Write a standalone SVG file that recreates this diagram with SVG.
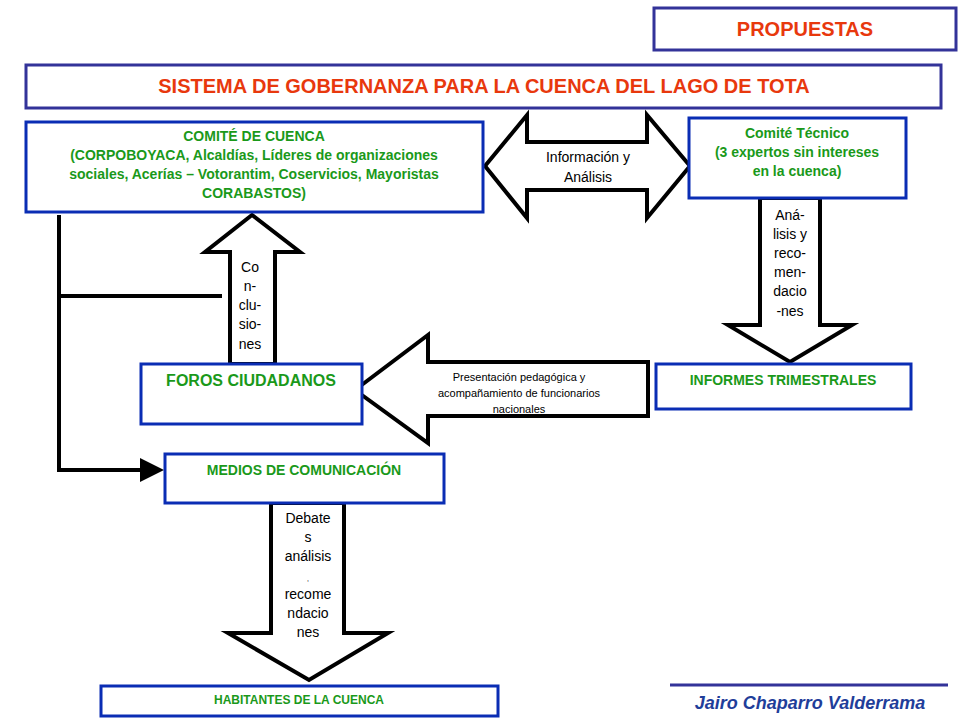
<svg xmlns="http://www.w3.org/2000/svg" width="960" height="720" viewBox="0 0 960 720">
<style>
.box{fill:#fff;stroke:#0a2db4;stroke-width:3}
.tbox{fill:#fff;stroke:#333399;stroke-width:3}
.g{fill:#1a991a;font-family:"Liberation Sans",Arial,sans-serif;font-weight:bold;text-anchor:middle}
.r{fill:#e8380d;font-family:"Liberation Sans",Arial,sans-serif;font-weight:bold;font-size:20px;text-anchor:middle}
.arr{fill:#fff;stroke:#000;stroke-width:4;stroke-linejoin:miter}
.k{fill:#000;font-family:"Liberation Sans",Arial,sans-serif;text-anchor:middle}
.ln{fill:none;stroke:#000;stroke-width:4}
</style>
<defs><marker id="ah" markerWidth="6" markerHeight="6" refX="5" refY="3" orient="auto" markerUnits="strokeWidth"><path d="M0,0L6,3L0,6z" fill="#000"/></marker></defs>
<g id="propuestas"><rect class="tbox" x="654" y="8" width="302" height="42"/><text class="r" x="805" y="36">PROPUESTAS</text></g>
<g id="titulo"><rect class="tbox" x="26" y="65" width="915" height="43"/><text class="r" x="484" y="93">SISTEMA DE GOBERNANZA PARA LA CUENCA DEL LAGO DE TOTA</text></g>
<g id="connectors">
<path class="arr" d="M485,166L527,115L527,142L647,142L647,115L690,166L647,218L647,190L527,190L527,218Z"/>
<text class="k" x="588" y="162" font-size="14">Información y</text><text class="k" x="588" y="182" font-size="14">Análisis</text>
<path class="arr" d="M760,198L820,198L820,325L852,325L790,362L728,325L760,325Z"/>
<g font-size="14"><text class="k" x="790" y="220">Aná-</text><text class="k" x="790" y="239">lisis y</text><text class="k" x="790" y="258">reco-</text><text class="k" x="790" y="277">men-</text><text class="k" x="790" y="296">dacio</text><text class="k" x="790" y="316">-nes</text></g>
<path class="arr" d="M230,364L230,252L205,252L252,215L300,252L275,252L275,364Z"/>
<g font-size="14"><text class="k" x="250" y="272">Co</text><text class="k" x="250" y="291">n-</text><text class="k" x="250" y="310">clu-</text><text class="k" x="250" y="329">sio-</text><text class="k" x="250" y="349">nes</text></g>
<path class="arr" d="M355,390L428,335L428,362L648,362L648,416L428,416L428,443Z"/>
<g font-size="11"><text class="k" x="519" y="381">Presentación pedagógica y</text><text class="k" x="519" y="397">acompañamiento de funcionarios</text><text class="k" x="519" y="413">nacionales</text></g>
<path class="arr" d="M271,503L344,503L344,633L388,633L309,680L228,633L271,633Z"/>
<g font-size="14"><text class="k" x="308" y="523">Debate</text><text class="k" x="308" y="542">s</text><text class="k" x="308" y="561">análisis</text><text class="k" x="308" y="581" font-size="7">,</text><text class="k" x="308" y="599">recome</text><text class="k" x="308" y="618">ndacio</text><text class="k" x="308" y="637">nes</text></g>
<path class="ln" d="M59,215L59,470L160,470" marker-end="url(#ah)"/>
<path class="ln" d="M59,296L222,296"/>
</g>
<g id="comite-cuenca"><rect class="box" x="26" y="122" width="457" height="90"/>
<g font-size="14"><text class="g" x="254" y="141">COMITÉ DE CUENCA</text><text class="g" x="254" y="160">(CORPOBOYACA, Alcaldías, Líderes de organizaciones</text><text class="g" x="254" y="179">sociales, Acerías – Votorantim, Coservicios, Mayoristas</text><text class="g" x="254" y="198">CORABASTOS)</text></g></g>
<g id="comite-tecnico"><rect class="box" x="689" y="118" width="217" height="80"/>
<g font-size="14"><text class="g" x="797" y="138">Comité Técnico</text><text class="g" x="797" y="157">(3 expertos sin intereses</text><text class="g" x="797" y="176">en la cuenca)</text></g></g>
<g id="foros"><rect class="box" x="141" y="364" width="221" height="60"/><text class="g" x="251" y="386" font-size="16">FOROS CIUDADANOS</text></g>
<g id="informes"><rect class="box" x="656" y="364" width="255" height="45"/><text class="g" x="783" y="385" font-size="14">INFORMES TRIMESTRALES</text></g>
<g id="medios"><rect class="box" x="165" y="454" width="279" height="49"/><text class="g" x="304" y="475" font-size="14">MEDIOS DE COMUNICACIÓN</text></g>
<g id="habitantes"><rect class="box" x="101" y="686" width="397" height="30"/><text class="g" x="299" y="704" font-size="12">HABITANTES  DE LA CUENCA</text></g>
<g id="autor"><line x1="670" y1="685" x2="948" y2="685" stroke="#333399" stroke-width="3"/><text x="810" y="709" font-family="Liberation Sans,Arial,sans-serif" font-weight="bold" font-style="italic" font-size="18" fill="#1f3e9a" text-anchor="middle">Jairo Chaparro Valderrama</text></g>
</svg>
